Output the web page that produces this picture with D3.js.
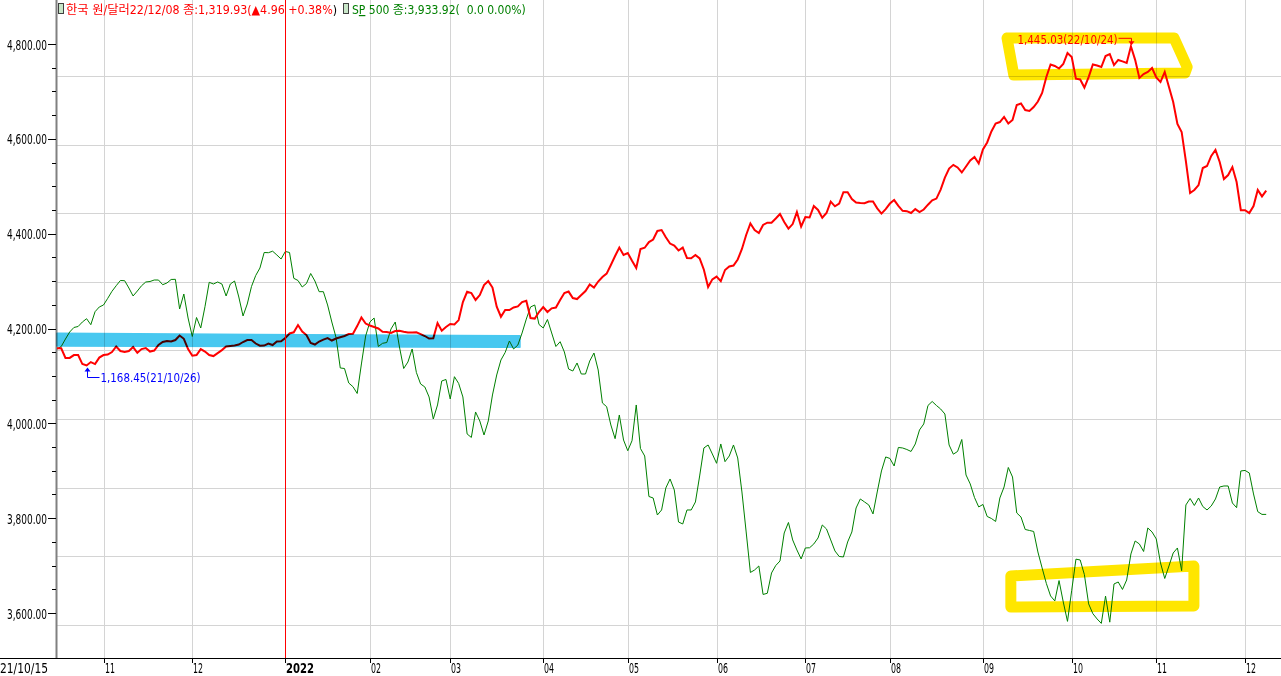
<!DOCTYPE html>
<html>
<head>
<meta charset="utf-8">
<script src="https://cdn.jsdelivr.net/npm/d3@7"></script>
<style>
body { margin: 0; background: #fff; }
svg { display: block; background: #fff; }
text { font-family: 'Liberation Sans Narrow', 'DejaVu Sans Condensed', 'Noto Sans CJK KR', sans-serif; white-space: pre; }
.hl { mix-blend-mode: multiply; }
</style>
</head>
<body>
<svg id="chart" width="1281" height="676"></svg>
<script>
// 한국 원/달러, one value per trading day from 21/10/15 to 22/12/08
var krw = [
  1183.4,1183.4,1175.0,1175.0,1177.5,1177.5,1169.7,1168.45,1171.4,1169.7,
  1175.3,1177.5,1177.9,1180.1,1184.9,1181.0,1180.1,1181.0,1184.4,1179.5,
  1182.7,1183.6,1180.5,1181.4,1186.2,1188.8,1189.7,1189.2,1190.5,1194.4,
  1191.6,1182.7,1176.9,1177.5,1182.7,1180.5,1177.5,1176.6,1179.2,1181.8,
  1184.9,1185.3,1185.7,1186.6,1188.8,1190.5,1190.5,1187.5,1185.6,1185.7,
  1187.5,1186.2,1189.2,1189.4,1192.2,1196.2,1197.2,1203.5,1197.9,1194.8,
  1187.9,1186.6,1189.2,1190.9,1192.2,1190.1,1191.8,1192.9,1194.0,1195.7,
  1196.0,1202.6,1210.0,1204.8,1203.1,1201.8,1200.5,1197.7,1197.4,1196.6,
  1198.3,1198.6,1197.7,1197.0,1197.0,1197.2,1195.7,1194.0,1191.8,1192.0,
  1205.2,1198.6,1201.8,1204.4,1204.0,1207.8,1223.4,1232.3,1231.2,1225.2,
  1229.5,1238.2,1241.6,1236.0,1219.4,1210.7,1216.5,1216.5,1218.7,1219.7,
  1223.4,1224.6,1209.6,1209.1,1214.8,1219.1,1214.8,1218.0,1218.7,1225.2,
  1231.2,1232.5,1226.9,1226.0,1229.5,1233.0,1238.6,1236.0,1241.2,1245.1,
  1248.1,1255.5,1263.3,1270.6,1264.2,1265.9,1259.2,1252.9,1269.4,1270.5,
  1275.4,1277.6,1285.0,1285.8,1279.5,1274.1,1272.4,1268.1,1270.6,1261.6,
  1261.3,1264.2,1261.2,1251.4,1236.4,1243.1,1245.5,1241.6,1251.2,1254.2,
  1255.1,1260.3,1269.4,1281.5,1291.5,1285.8,1283.2,1290.2,1292.2,1292.2,
  1295.8,1299.7,1292.8,1287.1,1291.0,1301.4,1288.9,1297.1,1296.7,1306.6,
  1303.2,1296.5,1300.6,1310.5,1306.4,1308.8,1318.6,1318.6,1312.7,1309.7,
  1309.2,1309.0,1310.5,1310.5,1304.6,1300.1,1304.0,1308.8,1311.8,1306.8,
  1302.5,1302.2,1300.6,1304.0,1301.4,1303.6,1307.8,1311.5,1313.1,1320.9,
  1331.3,1339.1,1342.3,1340.1,1335.7,1340.9,1346.1,1349.1,1343.5,1355.6,
  1361.7,1371.2,1378.1,1379.4,1383.8,1378.1,1381.2,1394.2,1395.5,1389.8,
  1389.0,1392.4,1397.2,1404.6,1418.4,1429.3,1428.0,1425.8,1429.7,1439.2,
  1435.8,1417.0,1416.3,1409.3,1418.4,1429.3,1428.4,1427.1,1436.6,1438.3,
  1428.8,1433.2,1432.0,1430.6,1445.03,1433.3,1417.6,1421.0,1422.8,1426.2,
  1418.0,1414.1,1422.8,1409.8,1396.8,1377.7,1370.8,1345.6,1317.9,1320.5,
  1324.8,1339.6,1341.3,1350.0,1355.2,1344.8,1330.0,1333.5,1340.4,1327.4,
  1303.0,1303.0,1300.6,1306.6,1320.5,1314.97,1319.93
];

// SP 500 on the same trading days
var spx = [
  4475.0,4483.2,4507.7,4530.6,4545.4,4548.6,4563.3,4574.1,4554.5,4597.0,
  4612.4,4618.9,4640.8,4663.7,4682.0,4699.1,4698.4,4674.5,4648.4,4664.7,
  4682.0,4694.2,4695.8,4700.7,4700.7,4685.3,4690.9,4702.4,4703.0,4605.9,
  4654.9,4576.4,4516.0,4578.0,4543.7,4613.4,4693.2,4687.6,4694.2,4687.6,
  4648.4,4687.6,4697.4,4645.1,4583.0,4622.2,4679.4,4715.4,4740.0,4790.7,
  4790.0,4794.9,4782.5,4769.4,4794.0,4790.7,4706.3,4699.1,4677.8,4689.2,
  4722.0,4697.4,4662.5,4662.5,4619.0,4563.3,4512.6,4412.9,4411.2,4363.8,
  4351.7,4329.5,4426.0,4517.5,4563.3,4576.4,4483.2,4493.6,4496.2,4540.5,
  4563.3,4481.6,4411.2,4432.5,4475.0,4398.2,4360.6,4350.8,4318.1,4246.1,
  4291.9,4370.4,4375.3,4311.5,4384.4,4362.2,4318.1,4197.1,4185.6,4269.0,
  4239.5,4193.7,4239.5,4324.6,4390.0,4439.1,4463.6,4501.2,4475.0,4488.0,
  4527.4,4572.9,4612.4,4619.0,4555.2,4543.7,4571.5,4527.4,4483.2,4498.9,
  4465.2,4409.6,4403.0,4429.2,4393.2,4393.2,4435.7,4461.9,4406.3,4298.4,
  4286.3,4226.4,4181.6,4259.1,4177.2,4142.2,4174.9,4291.9,4149.5,4125.0,
  3992.5,3987.6,3932.0,3948.4,4020.4,4049.8,4013.8,3909.1,3902.6,3948.4,
  3948.4,3974.6,4059.6,4151.2,4161.0,4131.6,4101.1,4164.3,4106.4,4125.0,
  4161.0,4118.5,4007.3,3876.4,3744.0,3752.1,3765.2,3672.0,3675.9,3742.3,
  3766.8,3781.5,3873.1,3907.5,3850.3,3817.6,3788.1,3824.1,3824.8,3837.2,
  3856.8,3899.3,3886.3,3850.3,3814.3,3796.3,3794.7,3843.7,3876.4,3954.9,
  3984.4,3974.6,3964.8,3935.4,4007.3,4076.0,4121.8,4116.9,4092.3,4152.9,
  4151.2,4146.3,4139.8,4164.3,4210.1,4229.7,4290.2,4303.3,4290.2,4278.7,
  4262.4,4161.0,4130.9,4139.8,4179.0,4062.9,4033.5,3989.3,3958.3,3966.4,
  3927.2,3920.6,3910.8,3987.6,4023.6,4087.4,4056.3,3938.6,3925.5,3884.6,
  3881.4,3878.1,3811.0,3758.7,3708.0,3667.1,3650.8,3717.4,3647.5,3584.0,
  3685.7,3787.5,3784.8,3736.8,3641.2,3609.2,3591.9,3577.4,3666.7,3581.4,
  3706.3,3712.8,3688.4,3719.4,3804.5,3847.0,3837.2,3812.6,3889.5,3876.4,
  3853.5,3775.0,3724.3,3765.2,3807.7,3824.1,3749.8,3964.8,3986.0,3963.1,
  3987.6,3959.8,3948.4,3961.5,3984.4,4023.6,4026.9,4026.9,3971.3,3955.9,
  4076.0,4077.7,4069.5,4000.8,3942.9,3933.92,3933.92
];

// x axis: trading-day index of the first day of each month
var monthDays = [11, 32, 54, 74, 93, 115, 135, 156, 177, 197, 219, 240, 260, 281];
var monthLabels = ["11", "12", "2022", "02", "03", "04", "05", "06", "07", "08", "09", "10", "11", "12"];
var firstDate = "21/10/15";
var lastDate = "22/12/08";

// left axis (labels 3,600 .. 4,800, minor step 50)
var leftMajor = [3600, 3800, 4000, 4200, 4400, 4600, 4800];
var leftMinor = [3650, 3700, 3750, 3850, 3900, 3950, 4050, 4100, 4150, 4250, 4300, 4350,
                 4450, 4500, 4550, 4650, 4700, 4750];

// horizontal grid, on the won scale
var krwGrid = [1419.3, 1359.9, 1300.4, 1241.0, 1181.5, 1122.1, 1062.6, 1003.2, 943.7];

// min / max marks of won series
var krwMinDay = 7, krwMinDate = "21/10/26";
var krwMaxDay = 254, krwMaxDate = "22/10/24";
var cursorDay = 54;

// hand drawn highlights: [day, value]
var blueBand = [[0, 1196.3], [109.5, 1194.2], [109.5, 1184.2], [0, 1185.3]];
var yellowTop = [[224.7, 1452.2], [264.2, 1452.2], [267.3, 1427.1], [266.8, 1421.9], [226.3, 1420.2]];
var yellowBottom = [[225.6, 3732.4], [268.9, 3765.1], [268.9, 3634.3], [225.6, 3631.0]];

var W = 1281, H = 676;
var svg = d3.select("#chart");

var x = d3.scaleLinear().domain([0, krw.length - 1]).range([57, 57 + (krw.length - 1) * 4.228]);
var yKrw = d3.scaleLinear().domain([1168.45, 1445.03]).range([365.5, 46.3]);
var ySpx = d3.scaleLinear().domain([3933.92, 4796.56]).range([514.4, 250.7]);
var yLeft = d3.scaleLinear().domain([3600, 4800]).range([613, 44]);
var axisY = 658;

var fmt = d3.format(",.2f");

// the original font is a narrow bitmap one, squeeze text to its width
function fit(sel, w) {
  sel.attr("textLength", w).attr("lengthAdjust", "spacingAndGlyphs");
}

// grid
var grid = svg.append("g").attr("stroke", "#d4d4d4").attr("stroke-width", 1);
grid.selectAll("line.h").data(krwGrid).enter().append("line")
    .attr("x1", 57).attr("x2", W)
    .attr("y1", function(d) { return Math.round(yKrw(d)) + 0.5; })
    .attr("y2", function(d) { return Math.round(yKrw(d)) + 0.5; });
grid.selectAll("line.v").data(monthDays).enter().append("line")
    .attr("x1", function(d) { return Math.round(x(d)) + 0.5; })
    .attr("x2", function(d) { return Math.round(x(d)) + 0.5; })
    .attr("y1", 0).attr("y2", axisY);

// left axis
svg.append("line").attr("x1", 56.5).attr("x2", 56.5).attr("y1", 0).attr("y2", axisY)
    .attr("stroke", "#808080").attr("stroke-width", 2);
svg.selectAll("line.minor").data(leftMinor).enter().append("line")
    .attr("x1", 52).attr("x2", 56)
    .attr("y1", function(d) { return Math.round(yLeft(d)) + 0.5; })
    .attr("y2", function(d) { return Math.round(yLeft(d)) + 0.5; })
    .attr("stroke", "#000");
svg.selectAll("line.major").data(leftMajor).enter().append("line")
    .attr("x1", 48).attr("x2", 56)
    .attr("y1", function(d) { return Math.round(yLeft(d)) + 0.5; })
    .attr("y2", function(d) { return Math.round(yLeft(d)) + 0.5; })
    .attr("stroke", "#000");
svg.selectAll("text.ylab").data(leftMajor).enter().append("text")
    .attr("x", 7).attr("y", function(d) { return yLeft(d) + 5.5; })
    .attr("font-size", 14.5).attr("fill", "#000")
    .text(function(d) { return fmt(d); })
    .call(fit, 40);

// bottom axis
svg.append("line").attr("x1", 0).attr("x2", W).attr("y1", axisY + 0.5).attr("y2", axisY + 0.5)
    .attr("stroke", "#000");
svg.selectAll("line.xt").data(monthDays).enter().append("line")
    .attr("x1", function(d) { return Math.round(x(d)) + 0.5; })
    .attr("x2", function(d) { return Math.round(x(d)) + 0.5; })
    .attr("y1", axisY).attr("y2", axisY + 5).attr("stroke", "#000");
svg.selectAll("text.xl").data(monthDays).enter().append("text")
    .attr("x", function(d) { return Math.round(x(d)) + 1; })
    .attr("y", 673)
    .attr("font-size", 14)
    .attr("font-weight", function(d, i) { return monthLabels[i] === "2022" ? "bold" : null; })
    .attr("textLength", function(d, i) { return monthLabels[i] === "2022" ? 28 : 10; })
    .attr("lengthAdjust", "spacingAndGlyphs")
    .text(function(d, i) { return monthLabels[i]; });
svg.append("text").attr("x", 0).attr("y", 673).attr("font-size", 14).text(firstDate)
    .call(fit, 48);

// series
var lineSpx = d3.line().x(function(d, i) { return x(i); }).y(function(d) { return ySpx(d); });
var lineKrw = d3.line().x(function(d, i) { return x(i); }).y(function(d) { return yKrw(d); });

svg.append("path").datum(spx).attr("d", lineSpx)
    .attr("fill", "none").attr("stroke", "#008000").attr("stroke-width", 1);
svg.append("path").datum(krw).attr("d", lineKrw)
    .attr("fill", "none").attr("stroke", "#ff0000").attr("stroke-width", 2);

// highlights
var ptK = function(p) { return [x(p[0]), yKrw(p[1])]; };
var ptS = function(p) { return [x(p[0]), ySpx(p[1])]; };

svg.append("polygon").attr("class", "hl")
    .attr("points", blueBand.map(ptK).join(" "))
    .attr("fill", "rgb(72,200,240)").attr("stroke", "rgb(72,200,240)").attr("stroke-width", 1.5)
    .attr("stroke-linejoin", "round");
svg.append("polygon").attr("class", "hl")
    .attr("points", yellowTop.map(ptK).join(" "))
    .attr("fill", "none").attr("stroke", "#ffe600").attr("stroke-width", 11)
    .attr("stroke-linejoin", "round");
svg.append("polygon").attr("class", "hl")
    .attr("points", yellowBottom.map(ptS).join(" "))
    .attr("fill", "none").attr("stroke", "#ffe600").attr("stroke-width", 11)
    .attr("stroke-linejoin", "round");

// min label
var mnX = Math.round(x(krwMinDay)) + 0.5, mnY = yKrw(krw[krwMinDay]) + 2;
svg.append("path")
    .attr("d", "M" + (mnX + 12) + "," + (mnY + 10) + "H" + mnX + "V" + (mnY + 2))
    .attr("fill", "none").attr("stroke", "#0000ff");
svg.append("path")
    .attr("d", "M" + mnX + "," + mnY + "l-3,4h6z").attr("fill", "#0000ff");
svg.append("text").attr("x", mnX + 13).attr("y", mnY + 14.5).attr("font-size", 13)
    .attr("fill", "#0000ff").text(fmt(krw[krwMinDay]) + "(" + krwMinDate + ")")
    .call(fit, 100);

// max label
var mxX = Math.round(x(krwMaxDay)) + 0.5, mxY = yKrw(krw[krwMaxDay]) - 1;
svg.append("path")
    .attr("d", "M" + (mxX - 13) + "," + (mxY - 7) + "H" + mxX + "V" + (mxY - 2))
    .attr("fill", "none").attr("stroke", "#ff0000");
svg.append("path")
    .attr("d", "M" + mxX + "," + mxY + "l-3,-4h6z").attr("fill", "#ff0000");
svg.append("text").attr("x", mxX - 114).attr("y", mxY - 1.5).attr("font-size", 13)
    .attr("fill", "#ff0000")
    .text(fmt(krw[krwMaxDay]) + "(" + krwMaxDate + ")")
    .call(fit, 100);

// legend
var n = krw.length - 1;
var kChg = krw[n] - krw[n - 1], kPct = kChg / krw[n - 1] * 100;
var sChg = spx[n] - spx[n - 1], sPct = sChg / spx[n - 1] * 100;

svg.append("rect").attr("x", 58.5).attr("y", 3.5).attr("width", 5).attr("height", 10)
    .attr("fill", "#c8e6c8").attr("stroke", "#404040");
var t1 = svg.append("text").attr("x", 66).attr("y", 14).attr("font-size", 12.3);
t1.append("tspan").attr("fill", "#ff0000")
    .text("한국 원/달러" + lastDate + " 종:" + fmt(krw[n]) + "(▲" + d3.format(".2f")(kChg) + " +" + d3.format(".2f")(kPct) + "%");
t1.append("tspan").attr("fill", "#000").text(")");

var lx = 66 + t1.node().getComputedTextLength() + 6;
svg.append("rect").attr("x", Math.round(lx) + 0.5).attr("y", 3.5).attr("width", 5).attr("height", 10)
    .attr("fill", "#c8e6c8").attr("stroke", "#404040");
var t2 = svg.append("text").attr("x", Math.round(lx) + 9).attr("y", 14).attr("font-size", 12)
    .attr("fill", "#008000");
t2.append("tspan").text("S");
t2.append("tspan").attr("text-decoration", "underline").text("P");
t2.append("tspan").text(" 500 종:" + fmt(spx[n]) + "(  " + d3.format(".1f")(sChg) + " " + d3.format(".2f")(sPct) + "%)");

// cursor
svg.append("line")
    .attr("x1", Math.round(x(cursorDay)) + 0.5).attr("x2", Math.round(x(cursorDay)) + 0.5)
    .attr("y1", 0).attr("y2", axisY)
    .attr("stroke", "#ff0000").attr("stroke-width", 1);
</script>
</body>
</html>
